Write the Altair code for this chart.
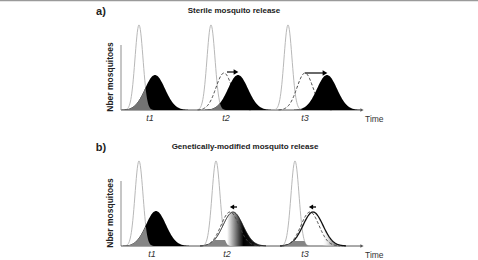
import altair as alt
import pandas as pd
import numpy as np

# Values.
# x: pixels right of the y axis; y: pixels above each panel's time axis
LABELS = ["t1", "t2", "t3"]
LABEL_X_A = [29, 105, 184]
LABEL_X_B = [31, 106, 184]

TALL_X_A = [18, 90, 167]      # wild population peaks (light grey)
TALL_X_B = [18, 95, 174]
TALL_H = 85
TALL_SD = 4

WILD_X_A = [34, 117, 206]     # next generation (black)
WILD_H = 35
WILD_SD = 10

DASH_X_A = [103, 184]         # previous position (dashed), t2 and t3
DASH_H_A = 37
DASH_SD = 8

ARROWS_A = [(106, 114, 38), (184, 203, 37)]   # start, end, height

B_T1_X = 35
B_T2_X = 112
B_T3_X = 192
B_H = 34
B_SD = 10
DASH_X_B = [109, 189]
DASH_H_B = 34
DASH_SD_B = 9
FLAGS_B = [(111, 116, 39), (190, 195, 39)]
B_PATCH_CAP = [60, 6, 5]      # height of the grey overlap patch in panel b

PANEL_A_OFFSET = 136   # panel a sits above panel b

FONT = "Liberation Sans"
XS = alt.Scale(domain=[0, 250])
YS = alt.Scale(domain=[0, 226])


def bell(c, h, s, name, dy=0, span=3.3, step=0.5):
    x = np.arange(c - span * s, c + span * s + step, step)
    return pd.DataFrame({"x": x, "y": h * np.exp(-0.5 * ((x - c) / s) ** 2) + dy, "y0": dy, "id": name})


def overlap(c, h, s, tc, name, dy=0, cap=1000):
    d = bell(c, h, s, name, dy)
    tall = TALL_H * np.exp(-0.5 * ((d["x"] - tc) / TALL_SD) ** 2)
    d["y"] = np.minimum(np.minimum(d["y"] - dy, tall), cap) + dy
    return d


def enc(chart):
    return chart.encode(
        x=alt.X("x:Q", scale=XS, axis=None),
        y=alt.Y("y:Q", scale=YS, axis=None),
    )


def area(chart):
    return chart.encode(
        x=alt.X("x:Q", scale=XS, axis=None),
        y=alt.Y("y:Q", scale=YS, axis=None),
        y2="y0:Q",
    )


def hrule(df, **kw):
    return alt.Chart(df).mark_rule(**kw).encode(
        x=alt.X("x:Q", scale=XS, axis=None), x2="x2:Q", y=alt.Y("y:Q", scale=YS, axis=None))


def frame_layers(title, letter, label_x, dy, with_top):
    layers = []
    if with_top:
        layers.append(hrule(pd.DataFrame({"x": [-121], "x2": [357], "y": [dy + 109.3]}),
                            color="#9a9a9a", strokeWidth=1.2))
    layers.append(alt.Chart(pd.DataFrame({"x": [0], "y": [dy], "y2": [dy + 65]})).mark_rule(
        color="#a0a0a0", strokeWidth=1.2).encode(
        x=alt.X("x:Q", scale=XS, axis=None), y=alt.Y("y:Q", scale=YS, axis=None), y2="y2:Q"))
    layers.append(hrule(pd.DataFrame({"x": [0], "x2": [240], "y": [dy]}), color="#555555", strokeWidth=1))
    layers.append(enc(alt.Chart(pd.DataFrame({"x": [241], "y": [dy]})).mark_point(
        shape="triangle-right", filled=True, color="#555555", size=14, opacity=1)))
    layers.append(enc(alt.Chart(pd.DataFrame({"x": [244], "y": [dy - 9], "t": ["Time"]})).mark_text(
        font=FONT, fontSize=8.5, color="#333333", align="left", baseline="middle")).encode(text="t:N"))
    layers.append(enc(alt.Chart(pd.DataFrame({"x": label_x, "y": [dy - 8] * 3, "t": LABELS})).mark_text(
        font=FONT, fontSize=9, fontStyle="italic", color="#333333", baseline="middle")).encode(text="t:N"))
    layers.append(enc(alt.Chart(pd.DataFrame({"x": [-11], "y": [dy + 33], "t": ["Nber mosquitoes"]})).mark_text(
        font=FONT, fontSize=8.5, fontWeight="bold", angle=270, color="#222222", baseline="middle")).encode(text="t:N"))
    layers.append(enc(alt.Chart(pd.DataFrame({"x": [title[1]], "y": [dy + 99], "t": [title[0]]})).mark_text(
        font=FONT, fontSize=8, fontWeight="bold", color="#222222", baseline="middle")).encode(text="t:N"))
    layers.append(enc(alt.Chart(pd.DataFrame({"x": [-20], "y": [dy + 98], "t": [letter]})).mark_text(
        font=FONT, fontSize=11, fontWeight="bold", color="#222222", baseline="middle")).encode(text="t:N"))
    return layers


def tall_layer(centers, dy):
    d = pd.concat([bell(c, TALL_H, TALL_SD, f"tall{i}", dy) for i, c in enumerate(centers)])
    return enc(alt.Chart(d).mark_line(color="#b8b8b8", strokeWidth=1)).encode(detail="id:N")


layers = []

# ---------------- panel a ----------------
DA = PANEL_A_OFFSET
layers += frame_layers(("Sterile mosquito release", 113), "a)", LABEL_X_A, DA, True)
layers.append(tall_layer(TALL_X_A, DA))
dash_a = pd.concat([bell(c, DASH_H_A, DASH_SD, f"d{i}", DA) for i, c in enumerate(DASH_X_A)])
layers.append(enc(alt.Chart(dash_a).mark_line(color="#444444", strokeWidth=1, strokeDash=[3, 2])).encode(detail="id:N"))
wild_a = pd.concat([bell(c, WILD_H, WILD_SD, f"w{i}", DA) for i, c in enumerate(WILD_X_A)])
layers.append(area(alt.Chart(wild_a).mark_area(color="#000000", opacity=1)).encode(detail="id:N"))
ov_a = pd.concat([overlap(c, WILD_H, WILD_SD, t, f"o{i}", DA) for i, (c, t) in enumerate(zip(WILD_X_A, TALL_X_A))])
layers.append(area(alt.Chart(ov_a).mark_area(color="#737373", opacity=1)).encode(detail="id:N"))
arr_a = pd.DataFrame({"x": [a[0] for a in ARROWS_A], "x2": [a[1] for a in ARROWS_A], "y": [a[2] + DA for a in ARROWS_A]})
layers.append(hrule(arr_a, color="#444444", strokeWidth=1.6))
head_a = pd.DataFrame({"x": [a[1] + 1 for a in ARROWS_A], "y": [a[2] + DA for a in ARROWS_A]})
layers.append(enc(alt.Chart(head_a).mark_point(shape="triangle-right", filled=True, color="#000000", size=30, opacity=1)))

# ---------------- panel b ----------------
layers += frame_layers(("Genetically-modified mosquito release", 124), "b)", LABEL_X_B, 0, False)
layers.append(tall_layer(TALL_X_B, 0))
layers.append(area(alt.Chart(bell(B_T1_X, B_H + 1, B_SD, "b1")).mark_area(color="#000000", opacity=1)))
grad2 = alt.Gradient(gradient="linear", x1=0, x2=1, y1=0, y2=0, stops=[
    alt.GradientStop(color="#ffffff", offset=0),
    alt.GradientStop(color="#ffffff", offset=0.41),
    alt.GradientStop(color="#000000", offset=0.66),
    alt.GradientStop(color="#1a1a1a", offset=0.85),
    alt.GradientStop(color="#555555", offset=1),
])
b2 = bell(B_T2_X, B_H, B_SD, "b2")
layers.append(area(alt.Chart(b2).mark_area(color=grad2, opacity=1)))
layers.append(enc(alt.Chart(b2).mark_line(color="#111111", strokeWidth=0.9)))
grad3 = alt.Gradient(gradient="linear", x1=0, x2=1, y1=0, y2=0, stops=[
    alt.GradientStop(color="rgba(255,255,255,0)", offset=0),
    alt.GradientStop(color="rgba(255,255,255,0)", offset=0.64),
    alt.GradientStop(color="#b0b0b0", offset=0.78),
    alt.GradientStop(color="#5a5a5a", offset=1),
])
b3 = bell(B_T3_X, B_H, B_SD, "b3")
layers.append(area(alt.Chart(b3).mark_area(color=grad3, opacity=1)))
layers.append(enc(alt.Chart(b3).mark_line(color="#111111", strokeWidth=1.3)))
ov_b = pd.concat([overlap(c, B_H, B_SD, t, f"o{i}", 0, cap) for i, (c, t, cap) in
                  enumerate(zip([B_T1_X, B_T2_X, B_T3_X], TALL_X_B, B_PATCH_CAP))])
layers.append(area(alt.Chart(ov_b).mark_area(color="#858585", opacity=1)).encode(detail="id:N"))
dash_b = pd.concat([bell(c, DASH_H_B, DASH_SD_B, f"d{i}") for i, c in enumerate(DASH_X_B)])
layers.append(enc(alt.Chart(dash_b).mark_line(color="#444444", strokeWidth=1, strokeDash=[3, 2])).encode(detail="id:N"))
flag_b = pd.DataFrame({"x": [f[0] for f in FLAGS_B], "x2": [f[1] for f in FLAGS_B], "y": [f[2] for f in FLAGS_B]})
layers.append(hrule(flag_b, color="#333333", strokeWidth=1.6))
layers.append(enc(alt.Chart(flag_b).mark_point(shape="triangle-left", filled=True, color="#000000", size=24, opacity=1)))

chart = alt.layer(*layers).properties(
    width=250, height=226,
    padding={"left": 121, "right": 107, "top": 20, "bottom": 14},
    autosize=alt.AutoSizeParams(type="none"),
    background="white",
).configure_view(stroke=None)

chart.save("out.html", embed_options={"renderer": "svg", "actions": False})
